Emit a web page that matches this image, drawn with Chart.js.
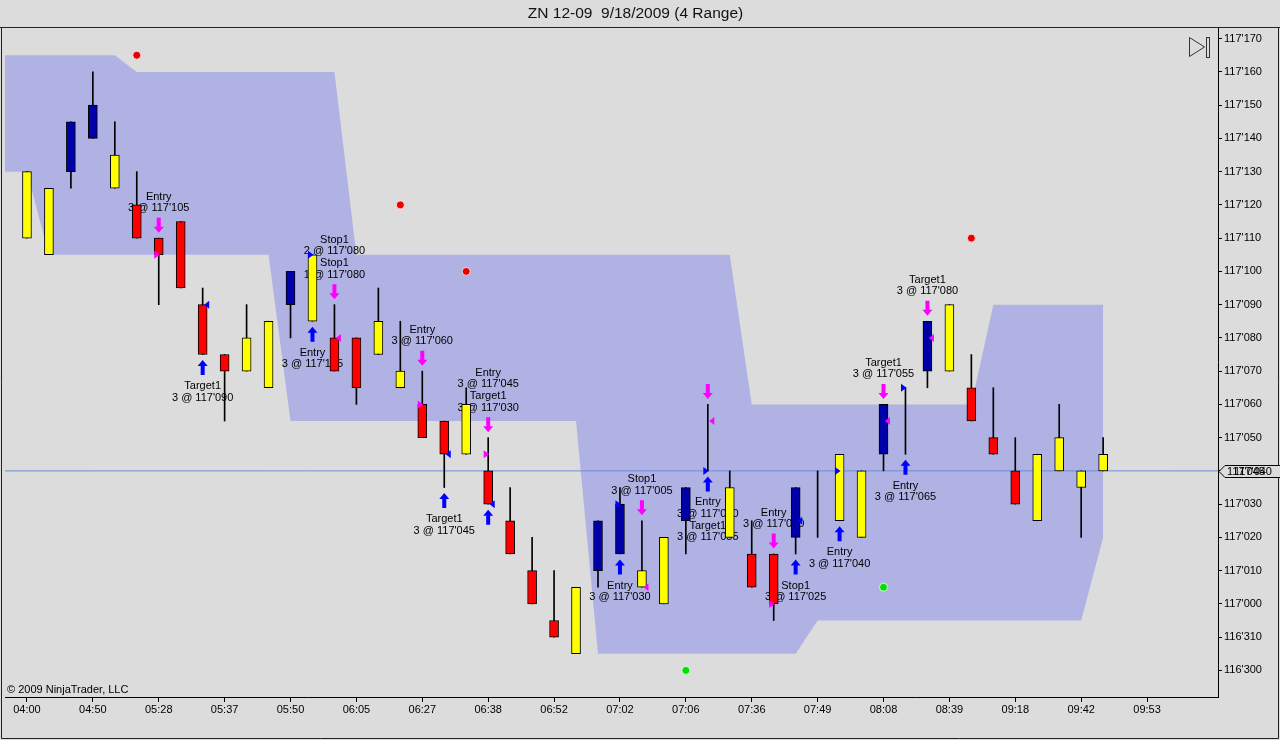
<!DOCTYPE html>
<html>
<head>
<meta charset="utf-8">
<title>ZN 12-09 9/18/2009 (4 Range)</title>
<script src="https://cdn.jsdelivr.net/npm/chart.js@4.4.1/dist/chart.umd.min.js"></script>
<style>
    html, body { margin: 0; padding: 0; background: #dcdcdc; }
    canvas { display: block; }
</style>
</head>
<body>
<canvas id="rangeChart" width="1280" height="740"></canvas>
<script>
// prices are counted in 32nds above 116'300 (0 = 116'300, 2 = 117'000, 19 = 117'170)
const priceTickLabels = [
    "116'300", "116'310", "117'000", "117'010", "117'020", "117'030", "117'040",
    "117'050", "117'060", "117'070", "117'080", "117'090", "117'100", "117'110",
    "117'120", "117'130", "117'140", "117'150", "117'160", "117'170"
];
const timeLabels = [
    "04:00", "04:50", "05:28", "05:37", "05:50", "06:05", "06:27", "06:38", "06:52",
    "07:02", "07:06", "07:36", "07:49", "08:08", "08:39", "09:18", "09:42", "09:53"
];
const timeLabelBars = [0, 3, 6, 9, 12, 15, 18, 21, 24, 27, 30, 33, 36, 39, 42, 45, 48, 51];

const barOpen = [
    13, 12.5, 15, 17, 14.5, 14, 13, 13.5, 11, 9.5,
    9, 8.5, 11, 10.5, 10, 10, 9.5, 8.5, 8, 7.5,
    6.5, 6, 4.5, 3, 1.5, 0.5, 3, 5, 2.5, 2,
    4.5, 6, 4, 3.5, 3.5, 4, 6, 4.5, 4, 6.5,
    8.5, 9, 9, 8.5, 7, 6, 4.5, 6, 5.5, 6
];
const barHigh = [
    15, 14.5, 16.5, 18, 16.5, 15, 13, 13.5, 11.5, 9.5,
    11, 10.5, 12, 12.5, 11, 10, 11.5, 10.5, 9, 7.5,
    8.5, 7, 5.5, 4, 3, 2.5, 4.5, 5.5, 4.5, 4,
    5.5, 8, 6, 4.5, 3.5, 5.5, 6, 6.5, 6, 8,
    8.5, 10.5, 11, 9.5, 8.5, 7, 6.5, 8, 6, 7
];
const barLow = [
    13, 12.5, 14.5, 16, 14.5, 13, 11, 11.5, 9.5, 7.5,
    9, 8.5, 10, 10.5, 9, 8, 9.5, 8.5, 7, 5.5,
    6.5, 5, 3.5, 2, 1, 0.5, 2.5, 3.5, 2.5, 2,
    3.5, 6, 4, 2.5, 1.5, 3.5, 4, 4.5, 4, 6,
    6.5, 8.5, 9, 7.5, 6.5, 5, 4.5, 6, 4, 6
];
const barClose = [
    15, 14.5, 16.5, 16, 15.5, 13, 12.5, 11.5, 9.5, 9,
    10, 10.5, 12, 12.5, 9, 8.5, 10.5, 9, 7, 6.5,
    8, 5, 3.5, 2, 1, 2.5, 4.5, 3.5, 3, 4,
    5.5, 6, 5.5, 2.5, 2, 5.5, 6, 6.5, 6, 8,
    8.5, 10.5, 11, 7.5, 6.5, 5, 6.5, 7, 6, 6.5
];
const barKind = [
    "Y", "Y", "B", "B", "Y", "R", "R", "R", "R", "R",
    "Y", "Y", "B", "Y", "R", "R", "Y", "Y", "R", "R",
    "Y", "R", "R", "R", "R", "Y", "B", "B", "Y", "Y",
    "B", "Y", "Y", "R", "R", "B", "Y", "Y", "Y", "B",
    "B", "B", "Y", "R", "R", "R", "Y", "Y", "Y", "Y"
];

// channel band, one value per bar starting one bar left of the first bar
const bandUpper = [
    18.5, 18.5, 18.5, 18.5, 18.5, 18.5,
    18, 18, 18, 18, 18, 18, 18, 18, 18, 18,
    12.5, 12.5, 12.5, 12.5, 12.5, 12.5, 12.5, 12.5, 12.5, 12.5, 12.5, 12.5, 12.5, 12.5, 12.5, 12.5, 12.5, 12.5,
    8, 8, 8, 8, 8, 8, 8, 8, 8, 8, 8,
    11, 11, 11, 11, 11, 11
];
const bandLower = [
    15, 15,
    12.5, 12.5, 12.5, 12.5, 12.5, 12.5, 12.5, 12.5, 12.5, 12.5, 12.5,
    7.5, 7.5, 7.5, 7.5, 7.5, 7.5, 7.5, 7.5, 7.5, 7.5, 7.5, 7.5, 7.5, 7.5,
    0.5, 0.5, 0.5, 0.5, 0.5, 0.5, 0.5, 0.5, 0.5, 0.5,
    1.5, 1.5, 1.5, 1.5, 1.5, 1.5, 1.5, 1.5, 1.5, 1.5, 1.5, 1.5, 1.5,
    4
];

const redDotBars = [5, 17, 20, 43];
const redDotPrices = [18.5, 14, 12, 13];
const greenDotBars = [30, 39];
const greenDotPrices = [0, 2.5];

const lastPrice = 6;

const sellArrowBars = [6, 14, 18, 21, 28, 31, 34, 39, 41];
const buyArrowBars = [8, 13, 19, 21, 27, 31, 35, 37, 40];

const tradeLabelBars = [6, 8, 13, 14, 14, 18, 19, 21, 21, 27, 28, 31, 31, 34, 35, 37, 39, 40, 41];
const tradeLabelSides = ["above", "below", "below", "above", "above", "above", "below", "above", "above",
    "below", "above", "below", "below", "above", "below", "below", "above", "below", "above"];
const tradeLabelNames = ["Entry", "Target1", "Entry", "Stop1", "Stop1", "Entry", "Target1", "Target1", "Entry",
    "Entry", "Stop1", "Entry", "Target1", "Entry", "Stop1", "Entry", "Target1", "Entry", "Target1"];
const tradeLabelFills = ["3 @ 117'105", "3 @ 117'090", "3 @ 117'105", "1 @ 117'080", "2 @ 117'080",
    "3 @ 117'060", "3 @ 117'045", "3 @ 117'030", "3 @ 117'045", "3 @ 117'030", "3 @ 117'005",
    "3 @ 117'040", "3 @ 117'055", "3 @ 117'030", "3 @ 117'025", "3 @ 117'040", "3 @ 117'055",
    "3 @ 117'065", "3 @ 117'080"];

const markBars = [6, 8, 13, 14, 18, 19, 21, 21, 27, 28, 31, 31, 34, 35, 37, 39, 40, 41];
const markPrices = [12.5, 11, 12.5, 10, 8, 6.5, 6.5, 5, 5, 2.5, 7.5, 6, 2, 4.5, 6, 7.5, 8.5, 10];
const markSides = ["sell", "buy", "buy", "sell", "sell", "buy", "sell", "buy", "buy", "sell",
    "sell", "buy", "sell", "buy", "buy", "sell", "buy", "sell"];
const markTypes = ["in", "out", "in", "out", "in", "out", "in", "out", "in", "out",
    "out", "in", "in", "out", "in", "out", "in", "out"];

const FONT = "'Liberation Sans', Arial, sans-serif";
const BG = "#dcdcdc";
const BUY_COLOR = "#0000ff";
const SELL_COLOR = "#ff00ff";
const kindColors = { Y: "#ffff00", R: "#ff0000", B: "#0000a8" };
const WICK_DATASET = 3;

const bodyData = barOpen.map((o, i) => ({ x: i, y: [Math.min(o, barClose[i]), Math.max(o, barClose[i])] }));
const wickData = barLow.map((l, i) => ({ x: i, y: [l, barHigh[i]] }));
const upperData = bandUpper.map((v, k) => ({ x: k - 1, y: v }));
const lowerData = bandLower.map((v, k) => ({ x: k - 1, y: v }));

// fat NinjaTrader style execution arrow, y is its middle
function drawArrow(ctx, x, y, up, color) {
    const d = up ? 1 : -1;
    ctx.fillStyle = color;
    ctx.beginPath();
    ctx.moveTo(x, y - 7.5 * d);
    ctx.lineTo(x + 5, y - 1.5 * d);
    ctx.lineTo(x + 2, y - 1.5 * d);
    ctx.lineTo(x + 2, y + 7.5 * d);
    ctx.lineTo(x - 2, y + 7.5 * d);
    ctx.lineTo(x - 2, y - 1.5 * d);
    ctx.lineTo(x - 5, y - 1.5 * d);
    ctx.closePath();
    ctx.fill();
}

function drawTrades(chart) {
    const ctx = chart.ctx;
    const xs = chart.scales.x;
    const ys = chart.scales.y;
    ctx.save();

    ctx.font = "11px " + FONT;
    ctx.textAlign = "center";
    ctx.textBaseline = "middle";
    const stacks = {};
    tradeLabelBars.forEach((b, k) => {
        const side = tradeLabelSides[k];
        const key = b + side;
        const n = stacks[key] || 0;
        stacks[key] = n + 1;
        const x = xs.getPixelForValue(b);
        let line1, line2;
        if (side === "above") {
            const ay = ys.getPixelForValue(barHigh[b]) - 13;
            line2 = ay - 17 - n * 23.5;
            line1 = line2 - 11.5;
        } else {
            const ay = ys.getPixelForValue(barLow[b]) + 13;
            line1 = ay + 18.5 + n * 23.5;
            line2 = line1 + 11.5;
        }
        ctx.fillStyle = "#000";
        ctx.fillText(tradeLabelNames[k], x, line1);
        ctx.fillText(tradeLabelFills[k], x, line2);
    });

    sellArrowBars.forEach(b => {
        drawArrow(ctx, xs.getPixelForValue(b), ys.getPixelForValue(barHigh[b]) - 13, false, SELL_COLOR);
    });
    buyArrowBars.forEach(b => {
        drawArrow(ctx, xs.getPixelForValue(b), ys.getPixelForValue(barLow[b]) + 13, true, BUY_COLOR);
    });
    ctx.restore();
}

function drawMarks(chart) {
    const ctx = chart.ctx;
    const xs = chart.scales.x;
    const ys = chart.scales.y;
    ctx.save();
    markBars.forEach((b, k) => {
        const x = xs.getPixelForValue(b);
        const y = ys.getPixelForValue(markPrices[k]);
        ctx.fillStyle = markSides[k] === "buy" ? BUY_COLOR : SELL_COLOR;
        ctx.beginPath();
        if (markTypes[k] === "in") {
            ctx.moveTo(x + 1, y);
            ctx.lineTo(x - 4.5, y - 4);
            ctx.lineTo(x - 4.5, y + 4);
        } else {
            ctx.moveTo(x + 1.5, y);
            ctx.lineTo(x + 6.5, y - 4);
            ctx.lineTo(x + 6.5, y + 4);
        }
        ctx.closePath();
        ctx.fill();
    });
    ctx.restore();
}

const chartDecor = {
    id: "chartDecor",
    beforeDraw(chart) {
        const ctx = chart.ctx;
        ctx.save();
        ctx.fillStyle = BG;
        ctx.fillRect(0, 0, chart.width, chart.height);
        ctx.restore();
    },
    beforeDatasetDraw(chart, args) {
        if (args.index === WICK_DATASET) drawTrades(chart);
    },
    afterDatasetsDraw(chart) {
        drawMarks(chart);
    },
    afterDraw(chart) {
        const ctx = chart.ctx;
        const area = chart.chartArea;
        ctx.save();

        // outer frame
        ctx.strokeStyle = "#222";
        ctx.lineWidth = 1;
        ctx.beginPath();
        ctx.moveTo(0, Math.round(area.top) + 0.5);
        ctx.lineTo(chart.width, Math.round(area.top) + 0.5);
        ctx.moveTo(1.5, area.top);
        ctx.lineTo(1.5, chart.height - 1.5);
        ctx.lineTo(chart.width - 1.5, chart.height - 1.5);
        ctx.lineTo(chart.width - 1.5, area.top);
        ctx.stroke();

        // copyright
        ctx.font = "11px " + FONT;
        ctx.fillStyle = "#000";
        ctx.textAlign = "left";
        ctx.textBaseline = "middle";
        ctx.fillText("\u00a9 2009 NinjaTrader, LLC", 7, area.bottom - 7);

        // scroll-to-end icon
        ctx.strokeStyle = "#333";
        ctx.beginPath();
        ctx.moveTo(1189.5, 37.5);
        ctx.lineTo(1189.5, 56.5);
        ctx.lineTo(1204.5, 47);
        ctx.closePath();
        ctx.stroke();
        ctx.strokeRect(1206.5, 37.5, 3, 20);

        // last price marker on the axis
        const py = Math.round(chart.scales.y.getPixelForValue(lastPrice)) + 0.5;
        const ax = area.right;
        ctx.fillStyle = BG;
        ctx.strokeStyle = "#000";
        ctx.beginPath();
        ctx.moveTo(ax + 1, py);
        ctx.lineTo(ax + 7, py - 6);
        ctx.lineTo(chart.width + 2, py - 6);
        ctx.lineTo(chart.width + 2, py + 6);
        ctx.lineTo(ax + 7, py + 6);
        ctx.closePath();
        ctx.fill();
        ctx.stroke();
        ctx.fillStyle = "#000";
        ctx.fillText(priceTickLabels[lastPrice], ax + 16, py);
        ctx.fillText("117'045", ax + 9, py);
        ctx.restore();
    }
};

Chart.defaults.font.family = FONT;
Chart.defaults.font.size = 11;
Chart.defaults.color = "#000";

new Chart(document.getElementById("rangeChart"), {
    type: "bar",
    data: {
        datasets: [
            {
                type: "line",
                data: upperData,
                borderWidth: 0,
                pointRadius: 0,
                backgroundColor: "rgb(176,178,228)",
                fill: "+1",
                order: 5
            },
            {
                type: "line",
                data: lowerData,
                borderWidth: 0,
                pointRadius: 0,
                fill: false,
                order: 5
            },
            {
                type: "line",
                data: [{ x: -1, y: lastPrice }, { x: 55, y: lastPrice }],
                borderColor: "#6a8fdc",
                borderWidth: 1,
                pointRadius: 0,
                fill: false,
                order: 4
            },
            {
                data: wickData,
                backgroundColor: "#000",
                borderWidth: 0,
                barThickness: 1,
                grouped: false,
                order: 3
            },
            {
                data: bodyData,
                backgroundColor: barKind.map(k => kindColors[k]),
                borderColor: "#000",
                borderWidth: 1,
                borderSkipped: false,
                barThickness: 9,
                grouped: false,
                order: 2
            },
            {
                type: "line",
                data: redDotBars.map((b, k) => ({ x: b, y: redDotPrices[k] })),
                showLine: false,
                pointRadius: 4,
                pointBackgroundColor: "#e80000",
                pointBorderColor: "rgba(255,220,220,0.9)",
                pointBorderWidth: 1,
                order: 1
            },
            {
                type: "line",
                data: greenDotBars.map((b, k) => ({ x: b, y: greenDotPrices[k] })),
                showLine: false,
                pointRadius: 4,
                pointBackgroundColor: "#00e000",
                pointBorderColor: "rgba(220,255,220,0.9)",
                pointBorderWidth: 1,
                order: 1
            }
        ]
    },
    options: {
        responsive: false,
        animation: false,
        devicePixelRatio: 1,
        layout: { padding: { left: 3, right: 12, top: 0, bottom: 0 } },
        plugins: {
            legend: { display: false },
            tooltip: { enabled: false },
            title: {
                display: true,
                text: "ZN 12-09  9/18/2009 (4 Range)",
                color: "#111",
                font: { size: 15.5, weight: "normal", family: FONT },
                padding: { top: 4, bottom: 4.4 }
            }
        },
        scales: {
            x: {
                type: "linear",
                min: -1,
                max: 54.23,
                offset: false,
                afterBuildTicks: scale => { scale.ticks = timeLabelBars.map(v => ({ value: v })); },
                afterFit: scale => { scale.height = 43; },
                ticks: {
                    autoSkip: false,
                    maxRotation: 0,
                    padding: 1,
                    callback: (value, index) => timeLabels[index]
                },
                grid: { drawOnChartArea: false, offset: false, tickLength: 5, color: "#000" },
                border: { display: true, color: "#000" }
            },
            y: {
                type: "linear",
                position: "right",
                min: -0.8,
                max: 19.35,
                afterBuildTicks: scale => {
                    scale.ticks = priceTickLabels.map((t, i) => ({ value: i }));
                },
                afterFit: scale => { scale.width = 50; },
                ticks: {
                    padding: 2,
                    callback: value => priceTickLabels[Math.round(value)]
                },
                grid: { drawOnChartArea: false, tickLength: 4, color: "#000" },
                border: { display: true, color: "#000" }
            }
        }
    },
    plugins: [chartDecor]
});
</script>
</body>
</html>
